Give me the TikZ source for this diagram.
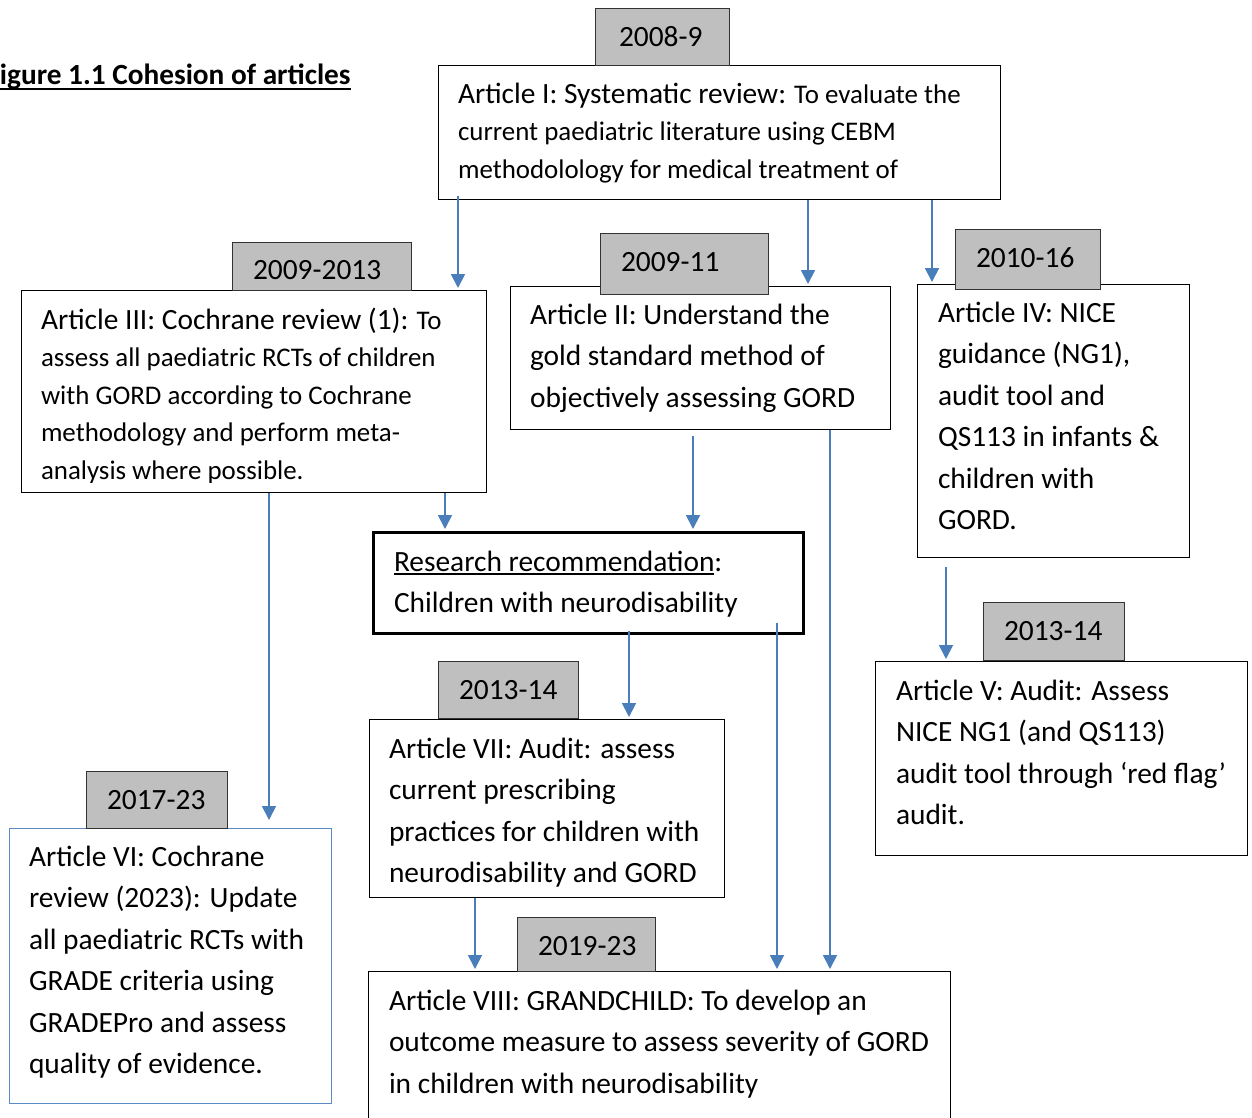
\documentclass[tikz,border=0pt]{standalone}
\usepackage{fontspec}
\setmainfont{Carlito}
\usetikzlibrary{arrows.meta}

\definecolor{yeargray}{HTML}{BFBFBF}
\definecolor{linkblue}{HTML}{4A7EBB}
\definecolor{frameblue}{HTML}{5B8AC6}

% type sizes (1 unit = 1pt)
\newcommand\szmain{\fontsize{29.4}{41.5}\selectfont}
\newcommand\szhead{\fontsize{29.4}{37.5}\selectfont}
\newcommand\szbody{\fontsize{26.9}{37.5}\selectfont}
\newcommand\ulbar[1]{\leavevmode{\setbox0\hbox{#1}\rlap{\rule[-4pt]{\wd0}{1.6pt}}\box0}}

\tikzset{
  artbox/.style={draw=black, line width=1.3pt, fill=white, inner sep=0pt, anchor=north west},
  yearbox/.style={draw=black!80, line width=1.3pt, fill=yeargray, inner sep=0pt, anchor=north west},
  txt/.style={anchor=base west, inner sep=0pt, outer sep=0pt},
  link/.style={draw=linkblue, line width=1.8pt, -{Triangle[width=14pt,length=14pt]}, shorten >=2pt},
}

\begin{document}
\begin{tikzpicture}[x=1pt,y=-1pt]
\useasboundingbox (0,0) rectangle (1252,1117);

% ---------- article boxes ----------
\node[artbox, minimum width=562pt, minimum height=134pt] (art1) at (438,65) {};
\node[artbox, minimum width=465pt, minimum height=202pt] (art3) at (21,290) {};
\node[artbox, minimum width=380pt, minimum height=143pt] (art2) at (510,286) {};
\node[artbox, minimum width=272pt, minimum height=273pt] (art4) at (917,284) {};
\node[artbox, line width=3.2pt, minimum width=430pt, minimum height=101pt] (rr) at (372,531) {};
\node[artbox, minimum width=355pt, minimum height=178pt] (art7) at (369,719) {};
\node[artbox, minimum width=372pt, minimum height=194pt] (art5) at (875,661) {};
\node[artbox, draw=frameblue, minimum width=322pt, minimum height=275pt] (art6) at (9,828) {};
\node[artbox, minimum width=582pt, minimum height=160pt] (art8) at (368,971) {};

% ---------- year tabs ----------
\node[yearbox, minimum width=134pt, minimum height=57pt] (y1) at (595,8) {};
\node[yearbox, minimum width=179pt, minimum height=48pt] (y3) at (232,242) {};
\node[yearbox, minimum width=168pt, minimum height=61pt] (y2) at (600,233) {};
\node[yearbox, minimum width=145pt, minimum height=60pt] (y4) at (955,229) {};
\node[yearbox, minimum width=140pt, minimum height=57pt] (y7) at (438,661) {};
\node[yearbox, minimum width=141pt, minimum height=58pt] (y5) at (983,602) {};
\node[yearbox, minimum width=141pt, minimum height=57pt] (y6) at (86,771) {};
\node[yearbox, minimum width=138pt, minimum height=54pt] (y8) at (517,917) {};

\node[txt, font=\szmain] (y1t) at (619,46) {2008-9};
\node[txt, font=\szmain] (y3t) at (253,279) {2009-2013};
\node[txt, font=\szmain] (y2t) at (621,271) {2009-11};
\node[txt, font=\szmain] (y4t) at (976,267) {2010-16};
\node[txt, font=\szmain] (y7t) at (459,699) {2013-14};
\node[txt, font=\szmain] (y5t) at (1004,640) {2013-14};
\node[txt, font=\szmain] (y6t) at (107,809) {2017-23};
\node[txt, font=\szmain] (y8t) at (538,955) {2019-23};

% ---------- title (its first letter runs past the left edge) ----------
\node[txt, font=\bfseries\fontsize{29.3}{36}\selectfont] (title) at (-13.5,84) {Figure 1.1 Cohesion of articles};
\draw[line width=2pt] ([yshift=-4.5pt]title.base west) -- ([yshift=-4.5pt]title.base east);

% ---------- box texts ----------
\node[txt] (art1t) at (458,103) {\parbox[t]{700pt}{\szbody
  {\szhead Article I: Systematic review:} To evaluate the\\
  current paediatric literature using CEBM\\
  methodolology for medical treatment of}};

\begin{scope}
  \clip (art3.north west) rectangle ([yshift=11pt]art3.south east);
  \node[txt] (art3t) at (41,329) {\parbox[t]{700pt}{\szbody
    {\szhead Article III: Cochrane review (1):} To\\
    assess all paediatric RCTs of children\\
    with GORD according to Cochrane\\
    methodology and perform meta-\\
    analysis where possible.}};
\end{scope}

\node[txt] (art2t) at (530,324) {\parbox[t]{700pt}{\szmain
  Article II: Understand the\\
  gold standard method of\\
  objectively assessing GORD}};

\node[txt] (art4t) at (938,322) {\parbox[t]{700pt}{\szmain
  Article IV: NICE\\
  guidance (NG1),\\
  audit tool and\\
  QS113 in infants \&\\
  children with\\
  GORD.}};

\node[txt] (rrt) at (394,571) {\parbox[t]{700pt}{\szmain
  \ulbar{Research recommendation}:\\
  Children with neurodisability}};

\node[txt] (art7t) at (389,758) {\parbox[t]{700pt}{\szmain
  Article VII: Audit: assess\\
  current prescribing\\
  practices for children with\\
  neurodisability and GORD}};

\node[txt] (art5t) at (896,700) {\parbox[t]{700pt}{\szmain
  Article V: Audit: Assess\\
  NICE NG1 (and QS113)\\
  audit tool through ‘red flag’\\
  audit.}};

\node[txt] (art6t) at (29,866) {\parbox[t]{700pt}{\szmain
  Article VI: Cochrane\\
  review (2023): Update\\
  all paediatric RCTs with\\
  GRADE criteria using\\
  GRADEPro and assess\\
  quality of evidence.}};

\node[txt] (art8t) at (389,1010) {\parbox[t]{700pt}{\szmain
  Article VIII: GRANDCHILD: To develop an\\
  outcome measure to assess severity of GORD\\
  in children with neurodisability}};

% ---------- connectors ----------
\coordinate (p1) at ([xshift=20pt]art1.south west);
\coordinate (p2) at ([xshift=370pt]art1.south west);
\coordinate (p3) at ([xshift=494pt]art1.south west);
\coordinate (p4) at ([xshift=424pt]art3.south west);
\coordinate (p5) at ([xshift=183pt]art2.south west);
\coordinate (p6) at ([xshift=248pt]art3.south west);
\coordinate (p7) at ([xshift=257pt]rr.south west);
\coordinate (p8) at ([xshift=405pt]rr.south west);
\coordinate (p9) at ([xshift=320pt]art2.south west);
\coordinate (p10) at ([xshift=29pt]art4.south west);
\coordinate (p11) at ([xshift=106pt]art7.south west);

\draw[link] ([yshift=4pt]p1) -- (p1 |- art3.north);
\draw[link] (p2) -- (p2 |- art2.north);
\draw[link] (p3) -- (p3 |- art4.north);
\draw[link] (p4) -- (p4 |- rr.north);
\draw[link] ([yshift=-6pt]p5) -- (p5 |- rr.north);
\draw[link, shorten >=8pt] (p6) -- (p6 |- art6.north);
\draw[link] ([yshift=4pt]p7) -- (p7 |- art7.north);
\draw[link] ([yshift=12pt]p8) -- (p8 |- art8.north);
\draw[link] (p9) -- (p9 |- art8.north);
\draw[link] ([yshift=-9pt]p10) -- (p10 |- art5.north);
\draw[link] (p11) -- (p11 |- art8.north);
\end{tikzpicture}
\end{document}
